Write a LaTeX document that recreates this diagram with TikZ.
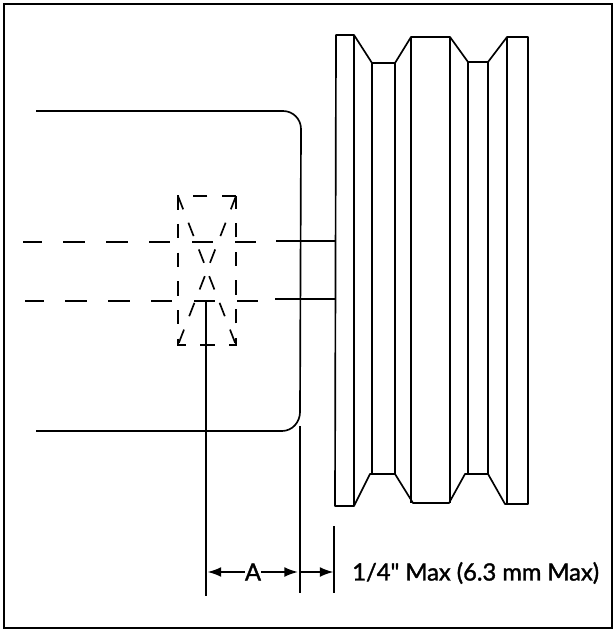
\documentclass[tikz,border=0pt]{standalone}
\usepackage{fontspec}
\setmainfont{Lato}[Ligatures=TeXOff,FakeBold=1.5]
\usetikzlibrary{arrows.meta}
\tikzset{>={Latex[length=3.6mm,width=2.6mm]}}
\tikzset{part/.style={line width=1.25pt,line join=round},
    frame/.style={line width=1.6pt},
    hidden/.style={line width=1.25pt,dash pattern=on 16pt off 16.2pt},
    hiddenx/.style={line width=1.25pt,dash pattern=on 10.75pt off 10.75pt},
    label/.style={inner sep=0pt,font=\fontsize{17.8}{20}\selectfont}}
\begin{document}
\begin{tikzpicture}[x=0.75pt,y=-0.75pt]
    \useasboundingbox (0,0) rectangle (614,630);
    %border
    \draw[frame] (4,4) rectangle (612,628);
    %housing
    \draw[part] (36,111) -- (283,111) to[out=0,in=90] (301,129) -- (300,412)
        to[out=-90,in=0] (282,431) -- (36,431);
    %pulley
    \draw[part] (336,35) -- (354,35) -- (372,63) -- (395,63) -- (411,37) -- (450,37)
        -- (468,62) -- (488,62) -- (507,37) -- (528,37) -- (528,504) -- (505,504)
        -- (488,474) -- (465,474) -- (449,503) -- (413,503) -- (395,474) -- (370,474)
        -- (354,506) -- (335,506) -- cycle;
    \foreach \x/\ya/\yb in {354/35/506, 372/63/474, 395/63/474, 411/37/503, 450/37/503,
        468/62/474, 488/62/474, 507/37/504}
        \draw[part] (\x,\ya) -- (\x,\yb);
    %shaft
    \coordinate (s1) at (276,241);
    \coordinate (s2) at (275,299);
    \draw[part] (s1) -- (336,241);
    \draw[part] (s2) -- (336,299);
    \draw[hidden,dash phase=2pt] (23,242) -- (257,242);
    \draw[hidden,dash phase=2pt] (25,301) -- (259,301);
    %hub
    \draw[hiddenx] (236,196) -- (178,196) -- (178,345) -- (236,345) -- (236,196);
    \draw[hiddenx] (178,196) -- (236,345);
    \draw[hiddenx] (236,196) -- (178,345);
    %dimensions
    \coordinate (e1) at (206,300);
    \coordinate (e2) at (300,426);
    \coordinate (e3) at (334,526);
    \draw[part] (e1) -- (206,596);
    \draw[part] (e2) -- (300,593);
    \draw[part] (e3) -- (334,593);
    \node[label] (A) at (253,572) {A};
    \draw[part,->] (A) -- (207.5,572);
    \draw[part,->] (A) -- (298,572);
    \draw[part,->] (300,572) -- (333.5,572);
    \node[label,anchor=west] (max) at (352,573) {1/4" Max (6.3 mm Max)};
\end{tikzpicture}
\end{document}
